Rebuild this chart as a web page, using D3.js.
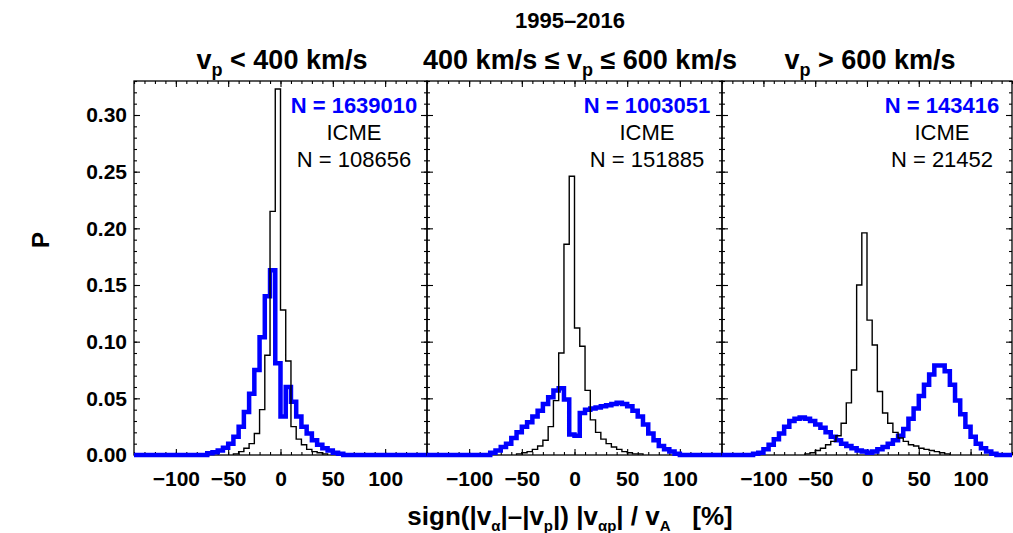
<!DOCTYPE html>
<html>
<head>
<meta charset="utf-8">
<script src="https://cdn.jsdelivr.net/npm/d3@7"></script>
<style>
	body { margin: 0; background: #fff; }
	text { font-family: "Liberation Sans", Arial, Helvetica, sans-serif; }
</style>
</head>
<body>
<div id="vis"></div>
<script>
// histogram values: P for each 5 %-wide bin, first bin starts at *_START
const BIN_WIDTH = 5;

// v_p < 400 km/s
const SLOW_ALL_START = -70;
const SLOW_ALL = [0.0015, 0.0025, 0.004, 0.0065, 0.010, 0.016, 0.025, 0.038, 0.054, 0.075,
	0.104, 0.140, 0.163, 0.081, 0.034, 0.060, 0.047, 0.034, 0.025, 0.019,
	0.013, 0.009, 0.006, 0.004, 0.002, 0.001];
const SLOW_ICME_START = -45;
const SLOW_ICME = [0.001, 0.003, 0.006, 0.010, 0.019, 0.040, 0.088, 0.215, 0.323, 0.128,
	0.083, 0.025, 0.014, 0.009, 0.005, 0.003, 0.002, 0.001];

// 400 <= v_p <= 600 km/s
const MID_ALL_START = -80;
const MID_ALL = [0.002, 0.004, 0.007, 0.010, 0.015, 0.020, 0.025, 0.029, 0.034, 0.039,
	0.045, 0.051, 0.057, 0.059, 0.049, 0.018, 0.017, 0.037, 0.040, 0.041,
	0.042, 0.043, 0.044, 0.045, 0.046, 0.045, 0.043, 0.039, 0.034, 0.027,
	0.019, 0.013, 0.008, 0.005, 0.003, 0.001];
const MID_ICME_START = -55;
const MID_ICME = [0.001, 0.002, 0.003, 0.005, 0.008, 0.013, 0.025, 0.048, 0.090, 0.186,
	0.246, 0.112, 0.096, 0.057, 0.031, 0.020, 0.014, 0.010, 0.007, 0.005,
	0.003, 0.002, 0.001, 0.001];

// v_p > 600 km/s
const FAST_ALL_START = -110;
const FAST_ALL = [0.001, 0.002, 0.005, 0.009, 0.014, 0.019, 0.025, 0.030, 0.032, 0.033,
	0.032, 0.030, 0.027, 0.024, 0.020, 0.016, 0.013, 0.010, 0.008, 0.006,
	0.004, 0.003, 0.002, 0.003, 0.005, 0.007, 0.010, 0.013, 0.017, 0.023,
	0.032, 0.041, 0.052, 0.062, 0.071, 0.079, 0.079, 0.074, 0.062, 0.048,
	0.036, 0.025, 0.016, 0.010, 0.006, 0.003, 0.001];
const FAST_ICME_START = -60;
const FAST_ICME = [0.001, 0.002, 0.004, 0.006, 0.009, 0.012, 0.017, 0.028, 0.046, 0.075,
	0.150, 0.196, 0.119, 0.097, 0.056, 0.037, 0.028, 0.020, 0.015, 0.012,
	0.009, 0.008, 0.006, 0.005, 0.004, 0.003, 0.002, 0.001];

const N_ALL = [1639010, 1003051, 143416];
const N_ICME = [108656, 151885, 21452];

// subtitle pieces, [text, subscript?]
const SUBTITLES = [
	[["v", false], ["p", true], [" < 400 km/s", false]],
	[["400 km/s \u2264 v", false], ["p", true], [" \u2264 600 km/s", false]],
	[["v", false], ["p", true], [" > 600 km/s", false]]
];

const X_DOMAIN = [-140, 140];
const Y_DOMAIN = [0, 0.33];
const X_TICKS = [-100, -50, 0, 50, 100];
const Y_TICKS = [0, 0.05, 0.10, 0.15, 0.20, 0.25, 0.30];

// layout
const FRAME_WIDTH = 1013;
const FRAME_HEIGHT = 533;
const PANEL_LEFT = [134, 427, 722];
const PANEL_RIGHT = [427, 722, 1012];
const SUB_X = [282, 580, 870];
const TOP = 81;
const BOTTOM = 455;
const BLUE = "#0000ff";

const PANELS = [
	{all: SLOW_ALL, allStart: SLOW_ALL_START, icme: SLOW_ICME, icmeStart: SLOW_ICME_START},
	{all: MID_ALL, allStart: MID_ALL_START, icme: MID_ICME, icmeStart: MID_ICME_START},
	{all: FAST_ALL, allStart: FAST_ALL_START, icme: FAST_ICME, icmeStart: FAST_ICME_START}
];

const FRAME = d3.select("#vis")
	.append("svg")
		.attr("width", FRAME_WIDTH)
		.attr("height", FRAME_HEIGHT);

const Y_SCALE = d3.scaleLinear()
	.domain(Y_DOMAIN)
	.range([BOTTOM, TOP]);

// turn bin values into step points
function stepPoints(values, start, withBase) {
	let pts = [];
	if (withBase) pts.push({x: X_DOMAIN[0], p: 0});
	pts.push({x: start, p: 0});
	values.forEach((v, i) => pts.push({x: start + i * BIN_WIDTH, p: v}));
	pts.push({x: start + values.length * BIN_WIDTH, p: 0});
	if (withBase) pts.push({x: X_DOMAIN[1], p: 0});
	return pts;
}

function styleAxis(g) {
	g.select(".domain").remove();
	g.selectAll(".tick line").attr("stroke", "#000").attr("stroke-width", 1.1);
	g.selectAll("text")
		.attr("font-size", "21px")
		.attr("font-weight", "bold")
		.attr("fill", "#000");
}

// text with subscript parts
function richText(sel, parts, size, subSize, shift) {
	parts.forEach((part, k) => {
		sel.append("tspan")
			.attr("dy", part[1] ? shift : (k > 0 && parts[k - 1][1] ? -shift : 0))
			.attr("font-size", part[1] ? subSize : size)
			.text(part[0]);
	});
}

PANELS.forEach((panel, i) => {
	const X_SCALE = d3.scaleLinear()
		.domain(X_DOMAIN)
		.range([PANEL_LEFT[i], PANEL_RIGHT[i]]);

	// bottom axis with labels
	FRAME.append("g")
		.attr("transform", "translate(0," + BOTTOM + ")")
		.call(d3.axisBottom(X_SCALE).tickValues(X_TICKS).tickSize(-6).tickPadding(16))
		.call(styleAxis);
	FRAME.append("g")
		.attr("transform", "translate(0," + BOTTOM + ")")
		.call(d3.axisBottom(X_SCALE).ticks(28).tickSize(-3).tickFormat(""))
		.call(styleAxis);

	// top axis
	FRAME.append("g")
		.attr("transform", "translate(0," + TOP + ")")
		.call(d3.axisTop(X_SCALE).tickValues(X_TICKS).tickSize(-6).tickFormat(""))
		.call(styleAxis);
	FRAME.append("g")
		.attr("transform", "translate(0," + TOP + ")")
		.call(d3.axisTop(X_SCALE).ticks(28).tickSize(-3).tickFormat(""))
		.call(styleAxis);

	// left and right y axes
	FRAME.append("g")
		.attr("transform", "translate(" + PANEL_LEFT[i] + ",0)")
		.call(d3.axisLeft(Y_SCALE).tickValues(Y_TICKS).tickSize(-6).tickPadding(7)
			.tickFormat(i == 0 ? d3.format(".2f") : ""))
		.call(styleAxis);
	FRAME.append("g")
		.attr("transform", "translate(" + PANEL_LEFT[i] + ",0)")
		.call(d3.axisLeft(Y_SCALE).ticks(33).tickSize(-3).tickFormat(""))
		.call(styleAxis);
	FRAME.append("g")
		.attr("transform", "translate(" + PANEL_RIGHT[i] + ",0)")
		.call(d3.axisRight(Y_SCALE).tickValues(Y_TICKS).tickSize(-6).tickFormat(""))
		.call(styleAxis);
	FRAME.append("g")
		.attr("transform", "translate(" + PANEL_RIGHT[i] + ",0)")
		.call(d3.axisRight(Y_SCALE).ticks(33).tickSize(-3).tickFormat(""))
		.call(styleAxis);

	// frame
	FRAME.append("rect")
		.attr("x", PANEL_LEFT[i])
		.attr("y", TOP)
		.attr("width", PANEL_RIGHT[i] - PANEL_LEFT[i])
		.attr("height", BOTTOM - TOP)
		.attr("fill", "none")
		.attr("stroke", "#000")
		.attr("stroke-width", 1.3);

	const line = d3.line()
		.x((d) => X_SCALE(d.x))
		.y((d) => Y_SCALE(d.p))
		.curve(d3.curveStepAfter);

	// all solar wind (blue, thick)
	FRAME.append("path")
		.datum(stepPoints(panel.all, panel.allStart, true))
		.attr("d", line)
		.attr("fill", "none")
		.attr("stroke", BLUE)
		.attr("stroke-width", 4.5)
		.attr("stroke-linejoin", "miter");

	// ICME (black, thin)
	FRAME.append("path")
		.datum(stepPoints(panel.icme, panel.icmeStart, false))
		.attr("d", line)
		.attr("fill", "none")
		.attr("stroke", "#000")
		.attr("stroke-width", 1.4);

	// counts
	const cx = PANEL_LEFT[i] + 220;
	FRAME.append("text")
		.attr("x", cx).attr("y", 113)
		.attr("text-anchor", "middle")
		.attr("font-size", "22px").attr("font-weight", "bold")
		.attr("fill", BLUE)
		.text("N = " + N_ALL[i]);
	FRAME.append("text")
		.attr("x", cx).attr("y", 140)
		.attr("text-anchor", "middle")
		.attr("font-size", "22px")
		.text("ICME");
	FRAME.append("text")
		.attr("x", cx).attr("y", 167)
		.attr("text-anchor", "middle")
		.attr("font-size", "22px")
		.text("N = " + N_ICME[i]);

	// subtitle
	const sub = FRAME.append("text")
		.attr("x", SUB_X[i])
		.attr("y", 69)
		.attr("text-anchor", "middle")
		.attr("font-size", "27px")
		.attr("font-weight", "bold");
	richText(sub, SUBTITLES[i], "27px", "18px", 7);
});

// title
FRAME.append("text")
	.attr("x", 570).attr("y", 28)
	.attr("text-anchor", "middle")
	.attr("font-size", "22px").attr("font-weight", "bold")
	.text("1995\u20132016");

// y label
FRAME.append("text")
	.attr("transform", "translate(49,240) rotate(-90)")
	.attr("text-anchor", "middle")
	.attr("font-size", "24px").attr("font-weight", "bold")
	.text("P");

// x label
const XLABEL = [["sign(|v", false], ["\u03b1", true], ["|\u2013|v", false], ["p", true],
	["|) |v", false], ["\u03b1p", true], ["| / v", false], ["A", true], ["   [%]", false]];
const xl = FRAME.append("text")
	.attr("x", 570).attr("y", 525)
	.attr("text-anchor", "middle")
	.attr("font-size", "26px").attr("font-weight", "bold")
	.style("white-space", "pre");
richText(xl, XLABEL, "26px", "15px", 6);
</script>
</body>
</html>
